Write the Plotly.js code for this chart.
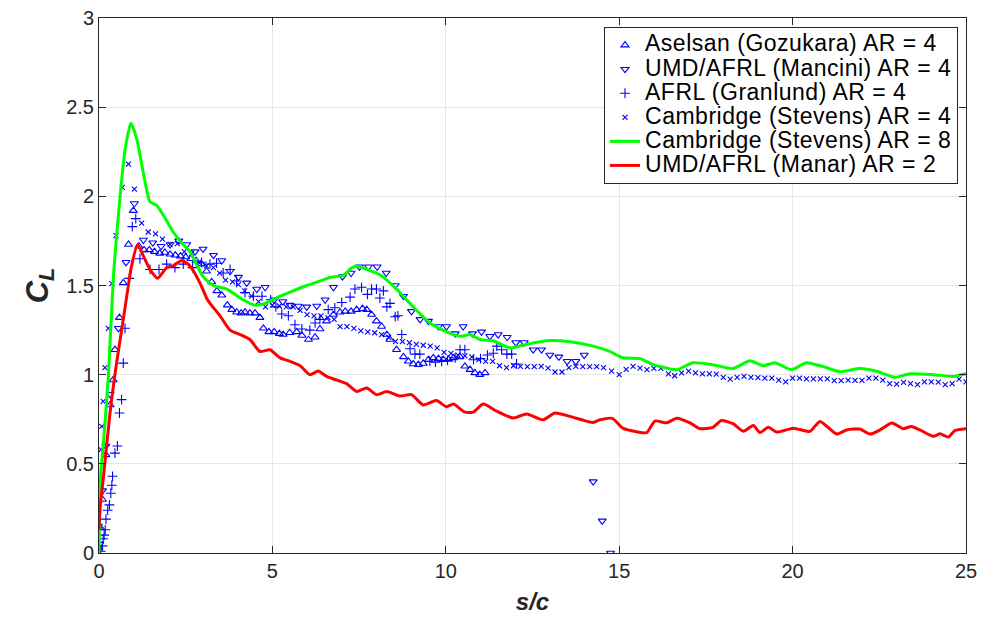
<!DOCTYPE html>
<html>
<head>
<meta charset="utf-8">
<script src="https://cdn.plot.ly/plotly-3.0.1.min.js"></script>
<style>
html,body{margin:0;padding:0;background:#fff}
#chart{width:984px;height:619px}
.legendtext{font-size:23px !important;letter-spacing:0.5px}
</style>
</head>
<body>
<div id="chart"></div>
<script>
// Aselsan (Gozukara) AR = 4
const gozX = [0.0,0.05,0.1,0.2,0.32,0.41,0.46,0.59,0.7,0.85,0.99,1.15,1.3,1.45,1.6,1.75,1.9,2.05,2.2,2.35,2.5,2.65,2.8,2.95,3.1,3.25,3.4,3.54,3.7,3.83,3.97,4.1,4.21,4.35,4.5,4.64,4.74,4.9,5.05,5.2,5.31,5.5,5.7,5.85,6.04,6.23,6.37,6.56,6.76,6.95,7.1,7.27,7.43,7.6,7.72,7.86,8.0,8.15,8.3,8.39,8.58,8.78,8.92,9.06,9.21,9.35,9.5,9.64,9.79,9.93,10.08,10.22,10.41,10.55,10.7,10.84,10.98,11.13];
const gozY = [0.03,0.14,0.3,0.55,0.83,0.97,1.14,1.32,1.515,1.73,1.92,1.72,1.70,1.70,1.69,1.68,1.685,1.675,1.67,1.665,1.66,1.65,1.64,1.62,1.58,1.52,1.47,1.445,1.39,1.365,1.35,1.345,1.35,1.345,1.345,1.32,1.26,1.24,1.24,1.23,1.225,1.235,1.24,1.22,1.197,1.21,1.256,1.30,1.337,1.35,1.355,1.355,1.365,1.37,1.365,1.337,1.30,1.27,1.225,1.197,1.14,1.10,1.075,1.06,1.056,1.063,1.084,1.094,1.09,1.084,1.085,1.094,1.10,1.047,1.028,1.01,1.0,1.01];

// UMD/AFRL (Mancini) AR = 4
const manX = [0.02,0.1,0.2,0.32,0.56,0.78,1.02,1.28,1.55,1.79,2.05,2.3,2.53,2.77,3.0,3.3,3.54,3.78,4.02,4.26,4.55,4.79,5.05,5.3,5.51,5.75,5.99,6.28,6.52,6.76,7.02,7.27,7.51,7.77,8.02,8.28,8.54,8.78,9.01,9.26,9.5,9.79,10.02,10.27,10.5,10.77,11.03,11.27,11.51,11.77,12.02,12.26,12.52,12.76,13.0,13.26,13.5,13.75,13.99,14.25,14.51,14.75];
const manY = [0.05,0.35,0.6,0.89,1.26,1.63,1.96,1.755,1.74,1.72,1.73,1.75,1.73,1.69,1.705,1.67,1.64,1.58,1.547,1.515,1.48,1.49,1.42,1.41,1.39,1.385,1.38,1.385,1.42,1.49,1.55,1.57,1.605,1.605,1.605,1.57,1.50,1.44,1.355,1.31,1.30,1.27,1.27,1.23,1.27,1.23,1.24,1.215,1.225,1.21,1.18,1.18,1.14,1.14,1.11,1.10,1.075,1.075,1.11,0.40,0.18,0.0];

// AFRL (Granlund) AR = 4
const graX = [0.05,0.1,0.12,0.15,0.18,0.2,0.25,0.3,0.34,0.37,0.39,0.46,0.53,0.59,0.65,0.7,0.75,0.87,0.96,1.06,1.18,1.47,1.73,1.95,2.19,2.43,2.7,2.96,3.2,3.39,3.58,3.78,3.97,4.21,4.45,4.7,4.95,5.1,5.27,5.46,5.65,5.85,6.08,6.23,6.37,6.61,6.8,7.0,7.24,7.38,7.57,7.74,7.86,8.0,8.1,8.2,8.3,8.39,8.54,8.62,8.73,8.97,9.11,9.25,9.54,9.7,9.88,10.05,10.27,10.41,10.55,10.8,11.0,11.2,11.37,11.47,11.61,11.76,11.9,12.04];
const graY = [0.01,0.04,0.08,0.1,0.13,0.19,0.24,0.27,0.335,0.38,0.43,0.56,0.60,0.785,0.86,1.065,1.26,1.54,1.83,1.875,1.65,1.59,1.59,1.62,1.60,1.62,1.60,1.63,1.62,1.625,1.57,1.59,1.525,1.46,1.44,1.44,1.42,1.38,1.34,1.33,1.28,1.256,1.25,1.29,1.31,1.365,1.375,1.405,1.435,1.48,1.49,1.45,1.48,1.48,1.43,1.47,1.38,1.40,1.325,1.33,1.225,1.145,1.115,1.115,1.075,1.07,1.075,1.08,1.094,1.14,1.14,1.084,1.09,1.11,1.12,1.16,1.14,1.115,1.115,1.06];

// Cambridge (Stevens) AR = 4
const st4X = [0.0,0.03,0.05,0.06,0.08,0.12,0.17,0.27,0.37,0.49,0.67,0.85,1.02,1.23,1.42,1.63,1.83,2.05,2.26,2.46,2.67,2.88,3.1,3.3,3.48,3.65,3.85,4.02,4.2,4.4,4.6,4.8,5.0,5.2,5.4,5.6,5.8,6.0,6.2,6.4,6.6,6.78,6.95,7.15,7.35,7.55,7.75,7.95,8.15,8.35,8.55,8.75,8.95,9.15,9.35,9.55,9.75,9.95,10.15,10.35,10.55,10.75,10.95,11.15,11.35,11.55,11.75,11.95,12.15,12.35,12.55,12.75,12.95,13.15,13.35,13.55,13.75,13.95,14.15,14.35,14.55,14.78,15.0,15.2,15.4,15.6,15.8,16.0,16.2,16.42,16.6,16.8,17.0,17.2,17.4,17.6,17.8,18.0,18.2,18.4,18.6,18.8,19.0,19.2,19.4,19.6,19.8,20.0,20.2,20.4,20.6,20.8,21.0,21.2,21.4,21.6,21.8,22.0,22.2,22.4,22.6,22.8,23.0,23.2,23.4,23.6,23.8,24.0,24.2,24.4,24.6,24.8,25.0];
const st4Y = [0.02,0.15,0.34,0.58,0.71,0.85,1.04,1.26,1.51,1.78,2.05,2.18,2.04,1.85,1.80,1.79,1.76,1.73,1.735,1.69,1.68,1.63,1.61,1.60,1.57,1.53,1.52,1.505,1.47,1.44,1.41,1.38,1.39,1.385,1.38,1.38,1.36,1.337,1.33,1.33,1.32,1.31,1.27,1.27,1.26,1.245,1.24,1.235,1.225,1.21,1.187,1.185,1.18,1.17,1.165,1.16,1.15,1.125,1.12,1.11,1.105,1.10,1.084,1.075,1.075,1.05,1.04,1.05,1.047,1.045,1.045,1.047,1.037,1.015,1.015,1.04,1.047,1.045,1.045,1.045,1.04,1.02,1.0,1.03,1.047,1.037,1.028,1.035,1.035,1.005,0.994,1.01,1.02,1.01,1.005,1.005,1.003,0.985,0.975,0.985,0.99,0.985,0.984,0.98,0.98,0.97,0.96,0.98,0.98,0.977,0.977,0.977,0.977,0.966,0.966,0.97,0.968,0.968,0.98,0.98,0.97,0.95,0.947,0.957,0.95,0.944,0.96,0.96,0.958,0.944,0.95,0.975,0.96];

// Cambridge (Stevens) AR = 8
const st8X = [0,0.05,0.12,0.27,0.41,0.6,0.75,0.92,1.09,1.28,1.47,1.66,1.9,2.14,2.38,2.62,3.0,3.29,3.69,4.15,4.5,4.8,5.0,5.22,5.6,5.99,6.3,6.66,7.04,7.29,7.43,7.72,8.1,8.58,9.06,9.54,10.03,10.41,10.7,10.99,11.37,11.85,12.33,12.91,13.58,14.25,14.73,15.1,15.6,15.98,16.66,17.13,17.7,18.28,18.77,19.15,19.49,19.97,20.4,20.88,21.37,21.94,22.42,22.95,23.39,24.05,24.63,25.0];
const st8Y = [0,0.45,0.6,0.99,1.53,1.98,2.26,2.41,2.32,2.13,1.97,1.95,1.88,1.80,1.74,1.69,1.55,1.50,1.48,1.42,1.39,1.40,1.42,1.44,1.47,1.50,1.52,1.545,1.556,1.60,1.61,1.59,1.56,1.48,1.38,1.29,1.24,1.215,1.225,1.197,1.19,1.15,1.17,1.19,1.185,1.16,1.13,1.095,1.09,1.056,1.028,1.067,1.056,1.034,1.078,1.05,1.067,1.028,1.067,1.045,1.017,1.034,1.019,0.985,1.005,1.0,0.99,1.005];

// UMD/AFRL (Manar) AR = 2
const mnrX = [0,0.03,0.12,0.32,0.51,0.70,0.87,0.94,1.11,1.28,1.47,1.69,1.95,2.14,2.38,2.62,2.91,3.1,3.2,3.49,3.78,4.07,4.35,4.64,4.93,5.22,5.51,5.8,6.08,6.32,6.56,6.85,7.14,7.43,7.72,8.0,8.3,8.68,9.01,9.35,9.73,10.02,10.22,10.55,10.79,11.08,11.47,11.95,12.33,12.81,13.15,13.58,13.92,14.25,14.45,14.8,15.1,15.5,15.79,16.03,16.37,16.66,17.04,17.33,17.7,17.95,18.28,18.58,18.87,19.06,19.3,19.54,20.02,20.5,20.79,21.27,21.56,21.94,22.23,22.52,22.86,23.19,23.43,23.67,24.06,24.25,24.49,24.68,25.0];
const mnrY = [0.13,0.25,0.41,0.79,1.07,1.31,1.53,1.61,1.73,1.665,1.59,1.54,1.60,1.61,1.64,1.61,1.515,1.43,1.40,1.33,1.25,1.225,1.197,1.13,1.14,1.094,1.075,1.05,1.0,1.02,0.99,0.97,0.95,0.906,0.925,0.888,0.906,0.88,0.888,0.83,0.855,0.82,0.835,0.79,0.79,0.835,0.795,0.757,0.78,0.747,0.785,0.766,0.747,0.732,0.747,0.755,0.70,0.68,0.675,0.74,0.73,0.756,0.73,0.697,0.705,0.743,0.725,0.683,0.715,0.676,0.705,0.678,0.70,0.682,0.738,0.667,0.69,0.695,0.667,0.69,0.729,0.697,0.71,0.69,0.654,0.668,0.65,0.687,0.697];

const xTicks = [0,5,10,15,20,25];
const yTicks = [0,0.5,1,1.5,2,2.5,3];

const blue = 'rgb(0,0,255)';
function mk(sym, size){ return {symbol: sym, size: size, color: blue, line: {color: blue, width: 1.1}}; }

const traces = [
  {x: gozX, y: gozY, mode: 'markers', name: 'Aselsan (Gozukara) AR = 4', marker: mk('triangle-up-open', 7)},
  {x: manX, y: manY, mode: 'markers', name: 'UMD/AFRL (Mancini) AR = 4', marker: mk('triangle-down-open', 7)},
  {x: graX, y: graY, mode: 'markers', name: 'AFRL (Granlund) AR = 4', marker: mk('cross-thin-open', 7)},
  {x: st4X, y: st4Y, mode: 'markers', name: 'Cambridge (Stevens) AR = 4', marker: mk('x-thin-open', 5)},
  {x: st8X, y: st8Y, mode: 'lines', name: 'Cambridge (Stevens) AR = 8', line: {color: 'rgb(0,255,0)', width: 3, shape: 'spline', smoothing: 0.6}},
  {x: mnrX, y: mnrY, mode: 'lines', name: 'UMD/AFRL (Manar) AR = 2', line: {color: 'rgb(255,0,0)', width: 3, shape: 'spline', smoothing: 0.6}}
];

const axisCommon = {
  showline: true, mirror: 'ticks', linecolor: '#262626', linewidth: 1,
  ticks: 'inside', ticklen: 7, tickcolor: '#262626',
  showgrid: true, gridcolor: '#e6e6e6', gridwidth: 1, zeroline: false,
  tickfont: {family: 'Liberation Sans, Arial, sans-serif', size: 20, color: '#262626'}
};

const layout = {
  width: 984, height: 619,
  margin: {l: 99, r: 18, t: 18, b: 66},
  paper_bgcolor: '#fff', plot_bgcolor: '#fff',
  showlegend: true,
  xaxis: Object.assign({}, axisCommon, {
    range: [0, 25], tickvals: xTicks, ticktext: xTicks.map(String),
    title: {text: '<b><i>s/c</i></b>', font: {family: 'Liberation Sans, Arial, sans-serif', size: 24, color: '#262626'}, standoff: 12}
  }),
  yaxis: Object.assign({}, axisCommon, {
    range: [0, 3], tickvals: yTicks, ticktext: yTicks.map(String),
    title: {text: '<b><i>C<sub>L</sub></i></b>', font: {family: 'Liberation Sans, Arial, sans-serif', size: 31, color: '#262626'}, standoff: 8}
  }),
  legend: {
    x: 0.9908, y: 0.983, xanchor: 'right', yanchor: 'top',
    bgcolor: '#fff', bordercolor: '#262626', borderwidth: 1,
    font: {family: 'Liberation Sans, Arial, sans-serif', size: 16.2, color: '#000'},
    tracegroupgap: 0, itemwidth: 30
  }
};

Plotly.newPlot('chart', traces, layout, {displayModeBar: false, staticPlot: true});
</script>
</body>
</html>
